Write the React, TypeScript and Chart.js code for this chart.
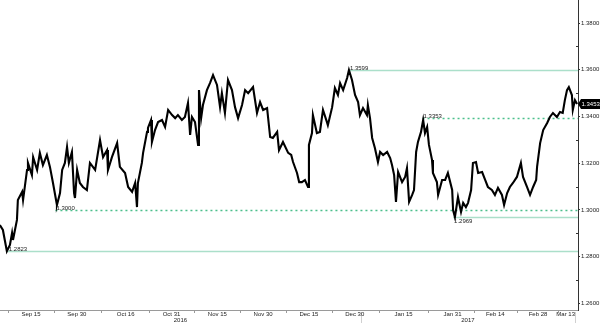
import { useEffect, useRef } from "react";
import { Chart, registerables } from "chart.js";

Chart.register(...registerables);

// Days counted from 2016-09-15 (day 0)
const dayOffsets = [
  -10.2, -9.2, -7.9, -6.9, -6.2, -5.9, -4.6, -4.3, -2.9, -2.6, -1.3, -1.0, 0.3, 0.7, 2.0, 2.9, 3.9, 5.2, 6.2, 7.2,
  8.2, 8.5, 9.5, 10.2, 11.1, 11.8, 12.4, 13.4, 14.1, 14.4, 15.1, 16.0, 17.0, 18.3, 19.3, 21.0, 22.6, 23.6, 24.9, 25.2,
  26.5, 28.2, 29.1, 30.8, 31.8, 33.1, 34.1, 34.7, 35.0, 36.3, 36.7, 38.0, 38.3, 39.3, 39.6, 40.6, 41.6, 42.9, 43.9, 44.9,
  46.2, 47.2, 48.1, 49.4, 50.4, 51.4, 52.1, 52.7, 53.7, 54.7, 55.0, 55.7, 56.3, 57.6, 58.6, 59.6, 60.9, 61.9, 62.5, 63.5,
  64.5, 65.8, 66.8, 67.8, 69.1, 70.1, 71.1, 72.7, 74.0, 75.0, 76.0, 77.3, 78.3, 79.2, 80.6, 81.2, 82.5, 84.2, 85.2, 85.8,
  87.1, 87.8, 88.7, 89.7, 90.7, 91.0, 92.0, 92.3, 93.6, 94.6, 95.6, 96.9, 97.2, 98.6, 99.5, 100.5, 101.2, 102.2, 103.5, 104.1,
  105.1, 106.1, 107.1, 107.7, 108.7, 110.0, 110.3, 111.0, 111.7, 112.6, 113.6, 114.3, 115.3, 116.6, 117.6, 118.2, 118.9, 119.5, 120.2, 121.5,
  122.5, 123.1, 123.8, 124.8, 125.4, 126.1, 126.7, 127.7, 128.4, 129.0, 129.7, 130.3, 131.3, 131.6, 132.9, 133.3, 134.6, 135.6, 136.5, 137.9,
  138.2, 138.8, 139.8, 140.8, 141.5, 142.4, 143.1, 144.1, 144.7, 145.7, 146.4, 147.7, 148.7, 149.6, 150.9, 151.9, 152.9, 154.2, 154.9, 155.9,
  156.8, 157.8, 159.1, 160.4, 161.1, 162.4, 163.4, 164.4, 165.4, 165.7, 166.7, 167.7, 169.0, 169.9, 170.9, 172.2, 173.2, 174.1, 174.8, 175.5,
  176.1, 177.1, 177.4, 178.1, 178.8,
];

const rates = [
  1.2935, 1.2914, 1.2823, 1.285, 1.2901, 1.2871, 1.2957, 1.3042, 1.3077, 1.3042, 1.3171, 1.3201, 1.3149, 1.3226, 1.3171, 1.3244, 1.3192, 1.3235, 1.3184, 1.3115,
  1.3042, 1.3021, 1.3072, 1.3171, 1.3201, 1.3269, 1.3201, 1.3248, 1.3072, 1.3051, 1.3171, 1.3115, 1.3098, 1.3085, 1.3201, 1.3171, 1.3299, 1.3226, 1.3256, 1.3171,
  1.3226, 1.3286, 1.3184, 1.3158, 1.3098, 1.3077, 1.3115, 1.3012, 1.3115, 1.3201, 1.3244, 1.3334, 1.3351, 1.3385, 1.3291, 1.3342, 1.3376, 1.3385, 1.3355, 1.3428,
  1.3406, 1.3393, 1.3406, 1.3385, 1.3398, 1.3458, 1.3321, 1.3398, 1.3376, 1.3278, 1.3513, 1.3393, 1.3449, 1.3513, 1.3543, 1.3577, 1.3535, 1.344, 1.35, 1.3415,
  1.3556, 1.3513, 1.344, 1.3393, 1.3449, 1.3513, 1.35, 1.3526, 1.3415, 1.3462, 1.3428, 1.3436, 1.3312, 1.3308, 1.3334, 1.3256, 1.3291, 1.3244, 1.3235, 1.3205,
  1.3158, 1.3119, 1.3119, 1.3128, 1.3098, 1.3278, 1.3329, 1.3406, 1.3329, 1.3334, 1.3428, 1.3376, 1.3363, 1.344, 1.3522, 1.3492, 1.3543, 1.3513, 1.3565, 1.3599,
  1.3556, 1.3492, 1.3462, 1.3406, 1.3436, 1.3406, 1.3449, 1.3393, 1.3308, 1.3265, 1.3205, 1.3248, 1.3235, 1.3248, 1.3222, 1.3192, 1.3149, 1.3034, 1.3162, 1.3119,
  1.3141, 1.3179, 1.3034, 1.3064, 1.3085, 1.3248, 1.3291, 1.3334, 1.3385, 1.3329, 1.3355, 1.3278, 1.3214, 1.3158, 1.3119, 1.3064, 1.3128, 1.3128, 1.3158, 1.3085,
  1.2999, 1.2969, 1.3055, 1.2991, 1.303, 1.3012, 1.303, 1.3085, 1.3201, 1.3205, 1.3158, 1.3162, 1.3128, 1.3098, 1.3085, 1.3064, 1.3094, 1.3064, 1.3021, 1.3072,
  1.3098, 1.3115, 1.3141, 1.3201, 1.3141, 1.3098, 1.3064, 1.3098, 1.3128, 1.3184, 1.3286, 1.3342, 1.3372, 1.3398, 1.3415, 1.3398, 1.3419, 1.3415, 1.347, 1.3513,
  1.3526, 1.3492, 1.3428, 1.347, 1.3453,
];

const xTickDays = [0, 15, 31, 46, 61, 76, 91, 106, 122, 138, 152, 166, 179];
const xTickLabels = ["Sep 15", "Sep 30", "Oct 16", "Oct 31", "Nov 15", "Nov 30", "Dec 15", "Dec 30", "Jan 15", "Jan 31", "Feb 14", "Feb 28", "Mar 13"];
const yearLabels = ["2016", "2017"];
const yearBoundaryDays = [108];
const yTickValues = [1.26, 1.28, 1.3, 1.32, 1.34, 1.36, 1.38];
const yMinorValues = [1.27, 1.29, 1.31, 1.33, 1.35, 1.37];

const levelValues = [1.2823, 1.3, 1.3599, 1.3393, 1.2969];
const levelLabels = ["1.2823", "1.3000", "1.3599", "1.3353", "1.2969"];
const levelStartDays = [-7.6, 8.0, 104.1, 128.2, 138.2];
const levelDashed = [false, true, false, true, false];
const levelLabelBelow = [false, false, false, false, true];

const FONT = "6px 'Liberation Sans', Arial, sans-serif";

const overlay = {
  id: "overlay",
  beforeDatasetsDraw(chart: any) {
    const { ctx, chartArea, scales } = chart;
    const x = scales.x;
    const y = scales.y;
    ctx.save();
    for (let i = 0; i < levelValues.length; i++) {
      const py = Math.round(y.getPixelForValue(levelValues[i])) + 0.5;
      const px = x.getPixelForValue(levelStartDays[i]);
      ctx.beginPath();
      if (levelDashed[i]) {
        ctx.setLineDash([2, 3]);
        ctx.strokeStyle = "#4cbf8c";
        ctx.lineWidth = 1.5;
      } else {
        ctx.setLineDash([]);
        ctx.strokeStyle = "#abdfca";
        ctx.lineWidth = 1.5;
      }
      ctx.moveTo(px, py);
      ctx.lineTo(chartArea.right, py);
      ctx.stroke();
    }
    ctx.restore();
  },
  afterDatasetsDraw(chart: any) {
    const { ctx, scales } = chart;
    const x = scales.x;
    const y = scales.y;
    ctx.save();
    ctx.font = FONT;
    ctx.fillStyle = "#222";
    ctx.textAlign = "left";
    for (let i = 0; i < levelValues.length; i++) {
      const py = y.getPixelForValue(levelValues[i]);
      const px = x.getPixelForValue(levelStartDays[i]) + 1;
      if (levelLabelBelow[i]) {
        ctx.textBaseline = "top";
        ctx.fillText(levelLabels[i], px, py + 1);
      } else {
        ctx.textBaseline = "bottom";
        ctx.fillText(levelLabels[i], px, py + 1);
      }
    }
    ctx.restore();
  },
  afterDraw(chart: any) {
    const { ctx, chartArea, scales } = chart;
    const x = scales.x;
    const y = scales.y;
    ctx.save();
    // x axis line
    ctx.strokeStyle = "#9a9a9a";
    ctx.lineWidth = 1;
    ctx.beginPath();
    ctx.moveTo(chartArea.left, chartArea.bottom + 0.5);
    ctx.lineTo(chartArea.right, chartArea.bottom + 0.5);
    ctx.stroke();
    // x minor ticks between labels
    ctx.beginPath();
    const tickDays: number[] = [];
    tickDays.push(xTickDays[0] - (xTickDays[1] - xTickDays[0]) / 2);
    for (let i = 0; i < xTickDays.length - 1; i++) tickDays.push((xTickDays[i] + xTickDays[i + 1]) / 2);
    for (const d of tickDays) {
      const px = Math.round(x.getPixelForValue(d)) + 0.5;
      ctx.moveTo(px, chartArea.bottom);
      ctx.lineTo(px, chartArea.bottom + 3);
    }
    ctx.stroke();
    // year separators
    ctx.strokeStyle = "#d0d0d0";
    ctx.beginPath();
    const seps = [...yearBoundaryDays.map((d) => x.getPixelForValue(d)), chartArea.right - 3];
    for (const s of seps) {
      const px = Math.round(s) + 0.5;
      ctx.moveTo(px, chartArea.bottom + 2);
      ctx.lineTo(px, chart.height);
    }
    ctx.stroke();
    // x labels
    ctx.font = FONT;
    ctx.fillStyle = "#222";
    ctx.textBaseline = "middle";
    ctx.textAlign = "center";
    for (let i = 0; i < xTickDays.length; i++) {
      let px = x.getPixelForValue(xTickDays[i]);
      const w = ctx.measureText(xTickLabels[i]).width;
      if (px + w / 2 > chartArea.right - 3) px = chartArea.right - 3 - w / 2;
      ctx.fillText(xTickLabels[i], px, chartArea.bottom + 4);
    }
    // year labels
    const bounds = [chartArea.left, ...yearBoundaryDays.map((d) => x.getPixelForValue(d)), chartArea.right - 3];
    for (let i = 0; i < yearLabels.length; i++) {
      ctx.fillText(yearLabels[i], (bounds[i] + bounds[i + 1]) / 2, chartArea.bottom + 10);
    }
    // y minor ticks
    ctx.strokeStyle = "#333";
    ctx.beginPath();
    for (const v of yMinorValues) {
      const py = Math.round(y.getPixelForValue(v)) + 0.5;
      ctx.moveTo(chartArea.right - 2, py);
      ctx.lineTo(chartArea.right, py);
    }
    ctx.stroke();
    // last price box
    const last = rates[rates.length - 1];
    const py = Math.round(y.getPixelForValue(last));
    const r = chartArea.right;
    ctx.fillStyle = "#000";
    ctx.beginPath();
    ctx.moveTo(r, py);
    ctx.lineTo(r + 3, py - 5);
    ctx.lineTo(chart.width, py - 5);
    ctx.lineTo(chart.width, py + 5);
    ctx.lineTo(r + 3, py + 5);
    ctx.closePath();
    ctx.fill();
    ctx.fillStyle = "#fff";
    ctx.textAlign = "left";
    ctx.textBaseline = "middle";
    ctx.font = FONT;
    ctx.fillText(last.toFixed(4), r + 3.5, py + 0.5);
    ctx.restore();
  },
};

export default function App() {
  const ref = useRef<HTMLCanvasElement | null>(null);
  useEffect(() => {
    if (!ref.current) return;
    const chart = new Chart(ref.current, {
      type: "line",
      data: {
        datasets: [
          {
            data: dayOffsets.map((d, i) => ({ x: d, y: rates[i] })),
            borderColor: "#000",
            borderWidth: 2.1,
            pointRadius: 0,
            tension: 0,
            fill: false,
          },
        ],
      },
      options: {
        animation: false,
        responsive: false,
        devicePixelRatio: 1,
        layout: { padding: 0 },
        plugins: { legend: { display: false }, tooltip: { enabled: false } },
        scales: {
          x: {
            type: "linear",
            min: -10.15,
            max: 179.1,
            grid: { display: false },
            border: { display: false },
            ticks: { display: false },
            afterFit: (s: any) => {
              s.height = 13;
              s.paddingLeft = 0;
              s.paddingRight = 0;
            },
          },
          y: {
            type: "linear",
            position: "right",
            min: 1.2571,
            max: 1.3899,
            afterBuildTicks: (s: any) => {
              s.ticks = yTickValues.map((v) => ({ value: v }));
            },
            afterFit: (s: any) => {
              s.width = 22;
              s.paddingTop = 0;
              s.paddingBottom = 0;
            },
            grid: { drawOnChartArea: false, drawTicks: true, tickLength: 2, tickColor: "#333" },
            border: { display: true, color: "#333", width: 1 },
            ticks: {
              padding: 1,
              color: "#222",
              font: { family: "'Liberation Sans', Arial, sans-serif", size: 6 },
              callback: (v: any) => Number(v).toFixed(4),
            },
          },
        },
      },
      plugins: [overlay],
    });
    return () => chart.destroy();
  }, []);
  return (
    <div style={{ position: "absolute", left: 0, top: 0, width: 600, height: 323, background: "#fff" }}>
      <canvas ref={ref} width={600} height={323} style={{ width: 600, height: 323, display: "block" }} />
    </div>
  );
}
